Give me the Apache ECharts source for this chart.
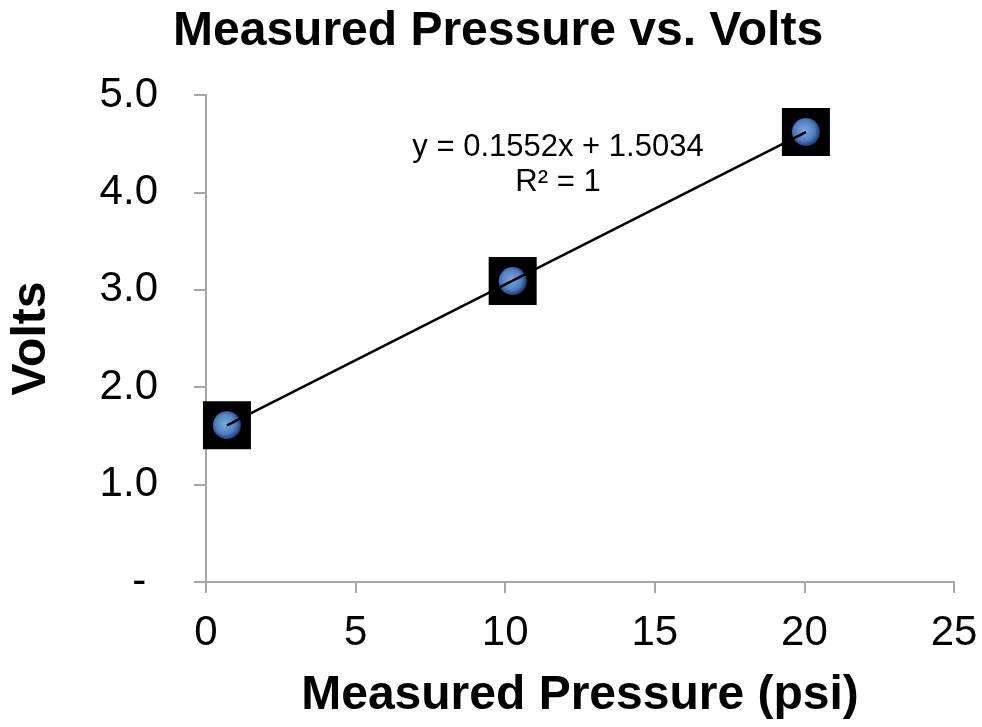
<!DOCTYPE html>
<html>
<head>
<meta charset="utf-8">
<script src="https://cdn.jsdelivr.net/npm/echarts@6/dist/echarts.min.js"></script>
<style>html,body{margin:0;padding:0;background:#fff}#c{width:982px;height:727px}</style>
</head>
<body>
<div id="c"></div>
<script>
// Data
var pressure = [0.7, 10.25, 20.05];
var volts = [1.61, 3.09, 4.62];
var xTicks = [0, 5, 10, 15, 20, 25];
var yTicks = ['-', '1.0', '2.0', '3.0', '4.0', '5.0'];
var trendText = ['y = 0.1552x + 1.5034', 'R\u00b2 = 1'];
var titleText = 'Measured Pressure vs. Volts';
var xName = 'Measured Pressure (psi)';
var yName = 'Volts';

// least-squares fit from the data
var n = pressure.length, sx = 0, sy = 0, sxx = 0, sxy = 0;
for (var i = 0; i < n; i++) { sx += pressure[i]; sy += volts[i]; sxx += pressure[i]*pressure[i]; sxy += pressure[i]*volts[i]; }
var slope = (n*sxy - sx*sy) / (n*sxx - sx*sx);
var intercept = (sy - slope*sx) / n;
var xmin = Math.min.apply(null, pressure), xmax = Math.max.apply(null, pressure);
var trend = [[xmin, slope*xmin + intercept], [xmax, slope*xmax + intercept]];
var pts = pressure.map(function (p, i) { return [p, volts[i]]; });

var FONT = '"Liberation Sans", Arial, sans-serif';
var axisGray = '#a6a6a6';
var chart = echarts.init(document.getElementById('c'));
chart.setOption({
  animation: false,
  backgroundColor: '#fff',
  title: {
    text: titleText, left: 168, top: 3,
    textStyle: { fontFamily: FONT, fontSize: 48, fontWeight: 'bold', color: '#000' }
  },
  grid: { left: 205, right: 28, top: 95, bottom: 145, containLabel: false },
  xAxis: {
    type: 'value', min: 0, max: 25, interval: 5,
    name: xName, nameLocation: 'middle', nameGap: 90,
    nameTextStyle: { fontFamily: FONT, fontSize: 48, fontWeight: 'bold', color: '#000' },
    axisLine: { show: true, lineStyle: { color: axisGray, width: 2 } },
    axisTick: { show: true, length: 11, lineStyle: { color: axisGray, width: 2 } },
    axisLabel: { fontFamily: FONT, fontSize: 42, color: '#000', margin: 30,
      formatter: function (v) { return xTicks.indexOf(v) >= 0 ? String(v) : ''; } },
    splitLine: { show: false }
  },
  yAxis: {
    type: 'value', min: 0, max: 5, interval: 1,
    name: yName, nameLocation: 'middle', nameGap: 150, nameRotate: 90,
    nameTextStyle: { fontFamily: FONT, fontSize: 48, fontWeight: 'bold', color: '#000' },
    axisLine: { show: true, lineStyle: { color: axisGray, width: 2 } },
    axisTick: { show: true, length: 12, lineStyle: { color: axisGray, width: 2 } },
    axisLabel: { fontFamily: FONT, fontSize: 42, color: '#000', margin: 48,
      formatter: function (v) { var k = Math.round(v); return k === 0 ? yTicks[0] + ' ' : yTicks[k]; } },
    splitLine: { show: false }
  },
  graphic: [{
    type: 'text', left: 558 - 150, top: 130, z: 100,
    style: { text: trendText.join('\n'), fontFamily: FONT, fontSize: 31, fill: '#000',
      textAlign: 'center', lineHeight: 35, width: 300 }
  }],
  series: [
    { type: 'scatter', data: pts, symbol: 'rect', symbolSize: 48, z: 2,
      itemStyle: { color: '#000', opacity: 1 } },
    { type: 'scatter', data: pts, symbol: 'circle', symbolSize: 28, z: 3,
      itemStyle: { opacity: 1, color: { type: 'radial', x: 0.45, y: 0.45, r: 0.6,
        colorStops: [{ offset: 0, color: '#7eaae0' }, { offset: 0.6, color: '#4f7fc0' }, { offset: 1, color: '#10306a' }] } } },
    { type: 'line', data: trend, symbol: 'none', z: 4,
      lineStyle: { color: '#000', width: 2.5 } }
  ]
});
</script>
</body>
</html>
